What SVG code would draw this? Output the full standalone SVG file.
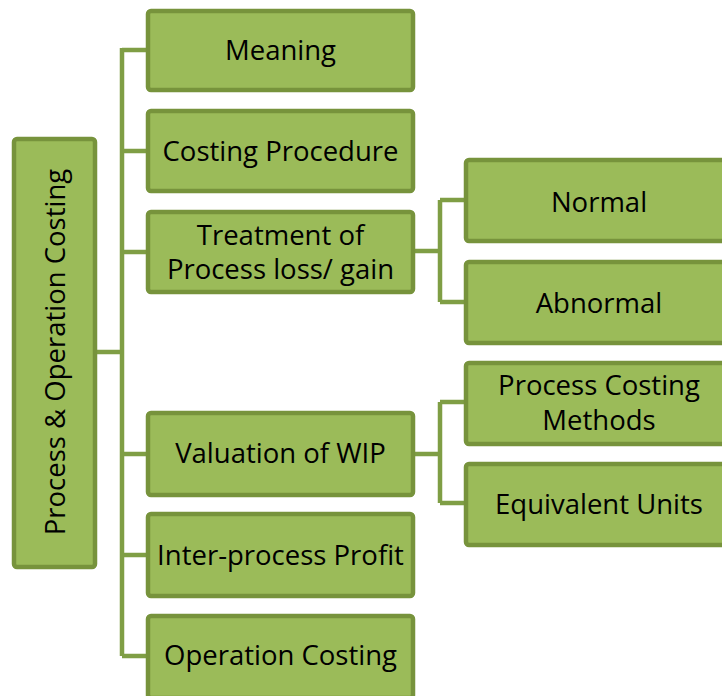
<svg xmlns="http://www.w3.org/2000/svg" width="722" height="696" viewBox="0 0 722 696">
<style>
.box{fill:#9bbb59;stroke:#77933c;stroke-width:4.5}
.lbl{font-family:"Open Sans","Noto Sans",sans-serif;font-size:27.5px;fill:#000;text-anchor:middle}
.con{fill:none;stroke:#7f9e45;stroke-width:4.5}
</style>
<g id="connectors">
<path class="con" d="M97,352 H122 M122,48 V656 M122,50 H148 M122,151 H148 M122,252 H148 M122,454 H148 M122,555 H148 M122,656 H148"/>
<path class="con" d="M415,251 H440 M440,200 V302 M440,200 H466 M440,302 H466"/>
<path class="con" d="M415,454 H440 M440,402 V503 M440,402 H466 M440,503 H466"/>
</g>
<g id="root">
<rect class="box" x="14" y="139" width="81" height="428" rx="3"/>
<text class="lbl" transform="translate(65,352) rotate(-90)">Process &amp; Operation Costing</text>
</g>
<g id="meaning">
<rect class="box" x="148" y="11" width="265" height="79" rx="3"/>
<text class="lbl" x="280.5" y="60">Meaning</text>
</g>
<g id="costing-procedure">
<rect class="box" x="148" y="111" width="265" height="80" rx="3"/>
<text class="lbl" x="280.5" y="161">Costing Procedure</text>
</g>
<g id="treatment">
<rect class="box" x="148" y="212" width="265" height="80" rx="3"/>
<text class="lbl" x="280.5" y="245">Treatment of</text>
<text class="lbl" x="280.5" y="279">Process loss/ gain</text>
</g>
<g id="valuation">
<rect class="box" x="148" y="413" width="265" height="82" rx="3"/>
<text class="lbl" x="280.5" y="463">Valuation of WIP</text>
</g>
<g id="inter-process">
<rect class="box" x="148" y="514" width="265" height="82" rx="3"/>
<text class="lbl" x="280.5" y="565">Inter-process Profit</text>
</g>
<g id="operation-costing">
<rect class="box" x="148" y="616" width="265" height="82" rx="3"/>
<text class="lbl" x="280.5" y="665">Operation Costing</text>
</g>
<g id="normal">
<rect class="box" x="466" y="160" width="265" height="81" rx="3"/>
<text class="lbl" x="599" y="212">Normal</text>
</g>
<g id="abnormal">
<rect class="box" x="466" y="262" width="265" height="81" rx="3"/>
<text class="lbl" x="599" y="313">Abnormal</text>
</g>
<g id="process-costing-methods">
<rect class="box" x="466" y="363" width="265" height="81" rx="3"/>
<text class="lbl" x="599" y="395">Process Costing</text>
<text class="lbl" x="599" y="430">Methods</text>
</g>
<g id="equivalent-units">
<rect class="box" x="466" y="464" width="265" height="81" rx="3"/>
<text class="lbl" x="599" y="514">Equivalent Units</text>
</g>
</svg>
